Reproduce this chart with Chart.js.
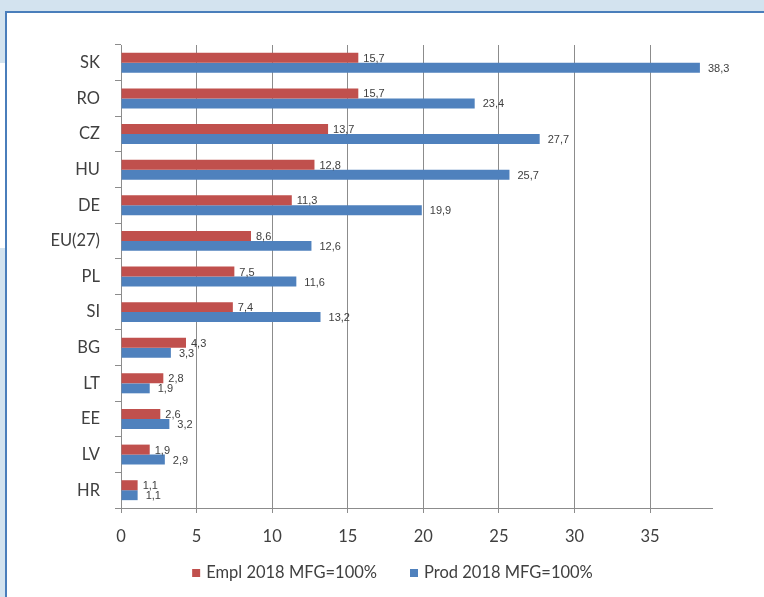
<!DOCTYPE html>
<html>
<head>
<meta charset="utf-8">
<script src="https://cdn.jsdelivr.net/npm/chart.js@4"></script>
<style>
  body { margin: 0; background: #d3e3ef; width: 764px; height: 597px; overflow: hidden; position: relative; }
  #gap { position: absolute; left: 0; top: 63px; width: 5px; height: 185px; background: #fff; }
  #panel { position: absolute; left: 5px; top: 11px; width: 757px; height: 584px; background: #fff;
           border-left: 2px solid #4a7ebb; border-top: 2px solid #4a7ebb; }
  #wrap { position: absolute; left: 0; top: 0; width: 757px; height: 584px; }
</style>
</head>
<body>
<div id="gap"></div>
<div id="panel"><div id="wrap"><canvas id="barChart"></canvas></div></div>
<script>
var countries = ["SK", "RO", "CZ", "HU", "DE", "EU(27)", "PL", "SI", "BG", "LT", "EE", "LV", "HR"];
var emplValues = [15.7, 15.7, 13.7, 12.8, 11.3, 8.6, 7.5, 7.4, 4.3, 2.8, 2.6, 1.9, 1.1];
var prodValues = [38.3, 23.4, 27.7, 25.7, 19.9, 12.6, 11.6, 13.2, 3.3, 1.9, 3.2, 2.9, 1.1];
var xTicks = [0, 5, 10, 15, 20, 25, 30, 35];

var chartFont = "Lato, 'Noto Sans', sans-serif";

// value labels like excel, with comma decimals
var valueLabels = {
  id: "valueLabels",
  afterDatasetsDraw: function (chart) {
    var ctx = chart.ctx;
    ctx.save();
    ctx.font = "11px 'Liberation Sans', Arial, sans-serif";
    ctx.fillStyle = "#404040";
    ctx.textBaseline = "middle";
    chart.data.datasets.forEach(function (ds, i) {
      var meta = chart.getDatasetMeta(i);
      meta.data.forEach(function (bar, j) {
        var txt = ds.data[j].toFixed(1).replace(".", ",");
        var dx = i === 0 ? 5 : 8;
        ctx.fillText(txt, bar.x + dx, bar.y + 1);
      });
    });
    ctx.restore();
  }
};

// own legend so the item spacing can be set
var bottomLegend = {
  id: "bottomLegend",
  afterDraw: function (chart) {
    var ctx = chart.ctx;
    var sets = chart.data.datasets;
    ctx.save();
    ctx.font = "16.5px " + chartFont;
    ctx.textBaseline = "middle";
    var box = 8, gapText = 6, gapItem = 33;
    var total = 0;
    sets.forEach(function (ds, i) {
      total += box + gapText + ctx.measureText(ds.label).width;
      if (i < sets.length - 1) total += gapItem;
    });
    var x = chart.width / 2 + 7 - total / 2;
    var y = 560;
    sets.forEach(function (ds) {
      ctx.fillStyle = ds.backgroundColor;
      ctx.fillRect(x, y - box / 2, box, box);
      x += box + gapText;
      ctx.fillStyle = "#404040";
      ctx.fillText(ds.label, x, y);
      x += ctx.measureText(ds.label).width + gapItem;
    });
    ctx.restore();
  }
};

var ctx = document.getElementById("barChart").getContext("2d");
var myChart = new Chart(ctx, {
  type: "bar",
  data: {
    labels: countries,
    datasets: [
      {
        label: "Empl 2018 MFG=100%",
        data: emplValues,
        backgroundColor: "#c0504d",
        categoryPercentage: 0.56,
        barPercentage: 1.0,
      },
      {
        label: "Prod 2018 MFG=100%",
        data: prodValues,
        backgroundColor: "#4f81bd",
        categoryPercentage: 0.56,
        barPercentage: 1.0,
      },
    ],
  },
  options: {
    indexAxis: "y",
    responsive: true,
    maintainAspectRatio: false,
    animation: false,
    layout: {
      padding: { top: 32, right: 52, left: 0, bottom: 44 },
    },
    scales: {
      x: {
        min: 0,
        max: 39.1,
        afterBuildTicks: function (scale) {
          scale.ticks = xTicks.map(function (v) { return { value: v }; });
        },
        afterFit: function (scale) { scale.height = 45; },
        grid: {
          display: true,
          color: "#8c8c8c",
          drawTicks: true,
          tickLength: 5,
        },
        border: { color: "#8c8c8c" },
        ticks: {
          color: "#404040",
          padding: 14,
          font: { family: chartFont, size: 16.5 },
        },
      },
      y: {
        afterFit: function (scale) { scale.width = 114; },
        grid: {
          drawOnChartArea: false,
          drawTicks: true,
          tickLength: 6,
          color: "#8c8c8c",
        },
        border: { color: "#8c8c8c" },
        ticks: {
          color: "#404040",
          padding: 15,
          font: { family: chartFont, size: 16.5 },
        },
      },
    },
    plugins: {
      legend: { display: false },
      tooltip: { enabled: false },
    },
  },
  plugins: [valueLabels, bottomLegend],
});
</script>
</body>
</html>
